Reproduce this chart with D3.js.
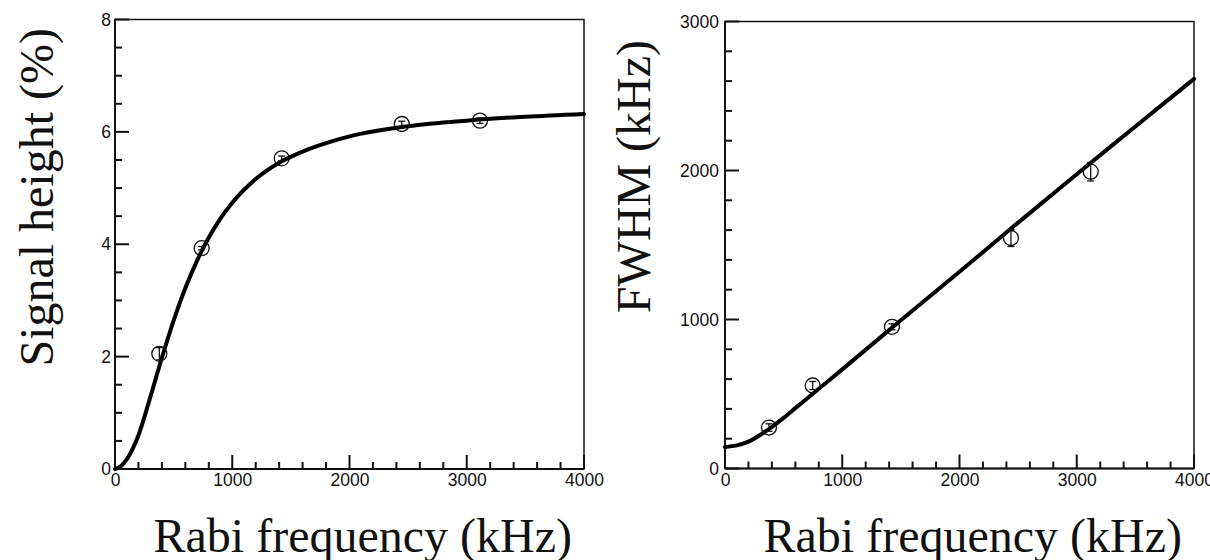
<!DOCTYPE html>
<html>
<head>
<meta charset="utf-8">
<script src="https://cdn.jsdelivr.net/npm/d3@7"></script>
<style>
  body { margin: 0; background: #fff; }
  .tick text { font-family: "Liberation Sans", Arial, sans-serif; font-size: 17.5px; fill: #111; }
  .title { font-family: "Liberation Serif", "Times New Roman", serif; font-size: 48px; fill: #111; }
</style>
</head>
<body>
<script>
// left panel: signal height
var rabiA = [378, 739, 1422, 2446, 3113];
var heightPct = [2.05, 3.93, 5.53, 6.14, 6.20];
var heightErr = [0.11, 0.03, 0.04, 0.05, 0.05];
var fitXA = [0, 50, 100, 200, 300, 400, 500, 600, 700, 800, 900, 1000, 1200, 1400, 1600, 1800, 2000, 2500, 3000, 3500, 4000];
var heightFit = [0, 0.05, 0.17, 0.6, 1.27, 1.98, 2.64, 3.22, 3.71, 4.12, 4.46, 4.74, 5.16, 5.45, 5.65, 5.8, 5.92, 6.1, 6.2, 6.27, 6.32];

// right panel: FWHM
var rabiB = [375, 748, 1424, 2439, 3119];
var fwhm = [275, 557, 951, 1547, 1992];
var fwhmErr = [25, 27, 20, 57, 62];
var fitXB = [0, 100, 200, 300, 400, 500, 600, 800, 1000, 1500, 2000, 2500, 3000, 3500, 4000];
var fwhmFit = [145, 155, 180, 225, 280, 340, 405, 535, 665, 995, 1320, 1650, 1975, 2295, 2615];

var xTicks = [0, 1000, 2000, 3000, 4000];
var yTicksA = [0, 2, 4, 6, 8];
var yTicksB = [0, 1000, 2000, 3000];

var svg = d3.select("body").append("svg")
    .attr("width", 1210)
    .attr("height", 560);

drawPanel({
    left: 115, right: 584, top: 19.5, bottom: 469,
    yMax: 8, yTicks: yTicksA, yMinor: 0.5, yPad: 4,
    xs: rabiA, ys: heightPct, errs: heightErr,
    fitX: fitXA, fitY: heightFit,
    yTitle: "Signal height (%)", yTitleX: 53, yTitleEnd: 28
});

drawPanel({
    left: 725, right: 1194, top: 21.5, bottom: 468.5,
    yMax: 3000, yTicks: yTicksB, yMinor: 200, yPad: 6,
    xs: rabiB, ys: fwhm, errs: fwhmErr,
    fitX: fitXB, fitY: fwhmFit,
    yTitle: "FWHM (kHz)", yTitleX: 650, yTitleEnd: 40
});

function drawPanel(c){
    var x = d3.scaleLinear().domain([0, 4000]).range([c.left, c.right]);
    var y = d3.scaleLinear().domain([0, c.yMax]).range([c.bottom, c.top]);

    var g = svg.append("g");

    //frame
    g.append("rect")
        .attr("x", c.left).attr("y", c.top)
        .attr("width", c.right - c.left).attr("height", c.bottom - c.top)
        .attr("fill", "none").attr("stroke", "#111").attr("stroke-width", 1.5);

    //tick marks pointing inward (minor every step, major on labelled values)
    var xMinor = d3.range(0, 4001, 200);
    var yMinor = d3.range(0, c.yMax + c.yMinor / 2, c.yMinor);
    g.selectAll(".xt")
        .data(xMinor)
        .enter().append("line")
        .attr("class", "xt")
        .attr("x1", function(d){ return x(d); }).attr("x2", function(d){ return x(d); })
        .attr("y1", c.bottom)
        .attr("y2", function(d){ return c.bottom - (xTicks.indexOf(d) >= 0 ? 14 : 7); })
        .attr("stroke", "#111").attr("stroke-width", 2);
    g.selectAll(".yt")
        .data(yMinor)
        .enter().append("line")
        .attr("class", "yt")
        .attr("y1", function(d){ return y(d); }).attr("y2", function(d){ return y(d); })
        .attr("x1", c.left)
        .attr("x2", function(d){ return c.left + (c.yTicks.indexOf(d) >= 0 ? 14 : 7); })
        .attr("stroke", "#111").attr("stroke-width", 2);

    //labels
    g.append("g")
        .attr("transform", "translate(0," + c.bottom + ")")
        .call(d3.axisBottom(x).tickValues(xTicks).tickSize(0).tickPadding(5).tickFormat(d3.format("d")))
        .call(function(s){ s.select(".domain").remove(); s.selectAll(".tick line").remove(); });
    g.append("g")
        .attr("transform", "translate(" + c.left + ",0)")
        .call(d3.axisLeft(y).tickValues(c.yTicks).tickSize(0).tickPadding(c.yPad).tickFormat(d3.format("d")))
        .call(function(s){ s.select(".domain").remove(); s.selectAll(".tick line").remove(); });

    //axis lines
    g.append("line")
        .attr("x1", c.left).attr("x2", c.right).attr("y1", c.bottom).attr("y2", c.bottom)
        .attr("stroke", "#111").attr("stroke-width", 2.2);
    g.append("line")
        .attr("x1", c.left).attr("x2", c.left).attr("y1", c.top).attr("y2", c.bottom)
        .attr("stroke", "#111").attr("stroke-width", 1.8);

    //fit curve
    var line = d3.line()
        .x(function(d, i){ return x(c.fitX[i]); })
        .y(function(d){ return y(d); })
        .curve(d3.curveMonotoneX);
    g.append("path")
        .datum(c.fitY)
        .attr("d", line)
        .attr("fill", "none")
        .attr("stroke", "#000")
        .attr("stroke-width", 4)
        .attr("stroke-linecap", "round");

    //data points with error bars
    var pts = g.selectAll(".pt")
        .data(c.xs.map(function(v, i){ return {x: v, y: c.ys[i], e: c.errs[i]}; }))
        .enter().append("g").attr("class", "pt");
    pts.append("line")
        .attr("x1", function(d){ return x(d.x); }).attr("x2", function(d){ return x(d.x); })
        .attr("y1", function(d){ return y(d.y - d.e); }).attr("y2", function(d){ return y(d.y + d.e); })
        .attr("stroke", "#111").attr("stroke-width", 1.3);
    [-1, 1].forEach(function(k){
        pts.append("line")
            .attr("x1", function(d){ return x(d.x) - 3.5; }).attr("x2", function(d){ return x(d.x) + 3.5; })
            .attr("y1", function(d){ return y(d.y + k * d.e); }).attr("y2", function(d){ return y(d.y + k * d.e); })
            .attr("stroke", "#111").attr("stroke-width", 1.3);
    });
    pts.append("circle")
        .attr("cx", function(d){ return x(d.x); })
        .attr("cy", function(d){ return y(d.y); })
        .attr("r", 7.5)
        .attr("fill", "none")
        .attr("stroke", "#111")
        .attr("stroke-width", 1.3);

    //titles
    g.append("text")
        .attr("class", "title")
        .attr("x", c.right - 12)
        .attr("y", 552)
        .attr("text-anchor", "end")
        .text("Rabi frequency (kHz)");
    g.append("text")
        .attr("class", "title")
        .attr("transform", "translate(" + c.yTitleX + "," + c.yTitleEnd + ") rotate(-90)")
        .attr("text-anchor", "end")
        .text(c.yTitle);
}
</script>
</body>
</html>
